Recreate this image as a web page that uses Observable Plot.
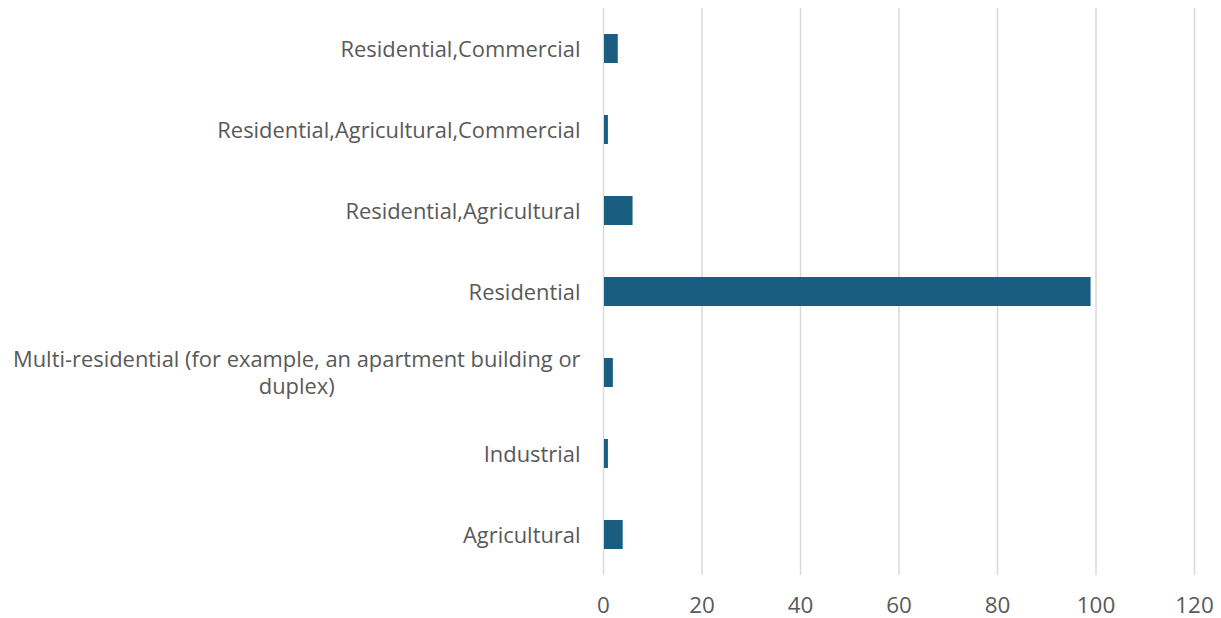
<!DOCTYPE html>
<html>
<head>
<meta charset="utf-8">
<script src="https://cdn.jsdelivr.net/npm/d3@7"></script>
<script src="https://cdn.jsdelivr.net/npm/@observablehq/plot@0.6"></script>
<style>
  html, body { margin: 0; padding: 0; background: #fff; }
  #chart { width: 1221px; height: 618px; }
</style>
</head>
<body>
<div id="chart"></div>
<script>
const categories = [
  "Residential,Commercial",
  "Residential,Agricultural,Commercial",
  "Residential,Agricultural",
  "Residential",
  "Multi-residential (for example, an apartment building or duplex)",
  "Industrial",
  "Agricultural"
];
const displayLabels = [
  "Residential,Commercial",
  "Residential,Agricultural,Commercial",
  "Residential,Agricultural",
  "Residential",
  "Multi-residential (for example, an apartment building or\nduplex)",
  "Industrial",
  "Agricultural"
];
const values = [3, 1, 6, 99, 2, 1, 4];
const xTicks = [0, 20, 40, 60, 80, 100, 120];

const data = categories.map((c, i) => ({category: c, value: values[i], label: displayLabels[i]}));

const FONT = "Open Sans";
const TEXT_COLOR = "#595959";
const BAR_COLOR = "#195e80";
const GAP = 23;

const ctx = document.createElement("canvas").getContext("2d");
ctx.font = `20px "${FONT}"`;
const fit = 568 / ctx.measureText("Multi-residential (for example, an apartment building or").width;
const FONT_SIZE = Math.round(20 * fit * 10) / 10;
ctx.font = `${FONT_SIZE}px "${FONT}"`;
const lineWidth = s => Math.max(...s.split("\n").map(l => ctx.measureText(l).width));

const labelMarks = data.map(d => Plot.text([d], {
  y: "category",
  text: "label",
  frameAnchor: "left",
  textAnchor: "middle",
  lineAnchor: "middle",
  lineHeight: 27 / FONT_SIZE,
  dx: -(GAP + lineWidth(d.label) / 2),
  dy: -1,
  fill: TEXT_COLOR,
  fontSize: FONT_SIZE
}));

const chart = Plot.plot({
  width: 1221,
  height: 618,
  marginLeft: 603,
  marginRight: 27,
  marginTop: 8,
  marginBottom: 43,
  style: {fontFamily: `"${FONT}"`, fontSize: FONT_SIZE + "px", color: TEXT_COLOR, background: "#fff", overflow: "visible"},
  x: {domain: [0, 120], ticks: xTicks},
  y: {domain: categories, paddingInner: 0.64, paddingOuter: 0.32},
  marks: [
    Plot.gridX(xTicks, {stroke: "#d9d9d9", strokeOpacity: 1, strokeWidth: 1.5}),
    Plot.barX(data, {x: "value", y: "category", fill: BAR_COLOR, insetLeft: 1}),
    Plot.axisX(xTicks, {tickSize: 0, tickPadding: 22, fill: TEXT_COLOR, fontSize: FONT_SIZE + 0.5, label: null}),
    Plot.axisY({ticks: [], label: null, tickSize: 0}),
    ...labelMarks
  ]
});
document.getElementById("chart").appendChild(chart);
</script>
</body>
</html>
